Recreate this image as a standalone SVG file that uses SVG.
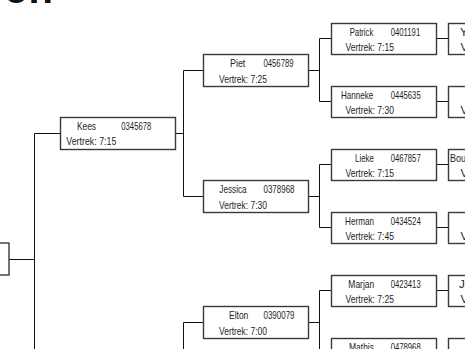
<svg xmlns="http://www.w3.org/2000/svg" width="465" height="349" viewBox="0 0 465 349">
<style>
.box{fill:#fff;stroke:#3a3a3a;stroke-width:1.4}
.t{font-family:"Liberation Sans",Arial,sans-serif;font-size:11.5px;fill:#1e1e1e}
.ttl{font-family:"Liberation Sans",Arial,sans-serif;font-size:40px;font-weight:bold;fill:#111}
#connectors path{fill:none;stroke:#111;stroke-width:1}
</style>
<rect width="465" height="349" fill="#fff"/>
<text class="ttl" x="4" y="3">on</text>
<g id="connectors">
<path d="M9 259.5H34.5M34.5 133.5V349M34.5 133.5H60"/>
<path d="M175 133.5H183.5M183.5 70.5V196.5M183.5 70.5H203M183.5 196.5H203M183.5 322.5V349M183.5 322.5H203"/>
<path d="M308 70.5H319.5M319.5 38.5V101.5M319.5 38.5H331M319.5 101.5H331"/>
<path d="M308 196.5H319.5M319.5 164.5V227.5M319.5 164.5H331M319.5 227.5H331"/>
<path d="M308 322.5H319.5M319.5 290.5V349M319.5 290.5H331"/>
<path d="M436 38.5H448M436 101.5H448M436 164.5H448M436 227.5H448M436 290.5H448"/>
</g>
<g id="node-root"><rect class="box" x="-20" y="243" width="29" height="32"/></g>
<g id="node-kees">
<rect class="box" x="60.5" y="117.5" width="115" height="32"/>
<text class="t" x="77" y="129.7" textLength="19" lengthAdjust="spacingAndGlyphs">Kees</text>
<text class="t" x="121.3" y="129.7" textLength="30" lengthAdjust="spacingAndGlyphs">0345678</text>
<text class="t" x="66.3" y="145" textLength="50" lengthAdjust="spacingAndGlyphs">Vertrek: 7:15</text>
</g>
<g id="node-piet">
<rect class="box" x="203.5" y="54.5" width="105" height="32"/>
<text class="t" x="230" y="66.7" textLength="15.3" lengthAdjust="spacingAndGlyphs">Piet</text>
<text class="t" x="263.5" y="66.7" textLength="30" lengthAdjust="spacingAndGlyphs">0456789</text>
<text class="t" x="219" y="82.7" textLength="48" lengthAdjust="spacingAndGlyphs">Vertrek: 7:25</text>
</g>
<g id="node-jessica">
<rect class="box" x="203.5" y="180.5" width="105" height="32"/>
<text class="t" x="219.3" y="192.7" textLength="27.4" lengthAdjust="spacingAndGlyphs">Jessica</text>
<text class="t" x="263.5" y="192.7" textLength="31" lengthAdjust="spacingAndGlyphs">0378968</text>
<text class="t" x="219" y="208.7" textLength="48" lengthAdjust="spacingAndGlyphs">Vertrek: 7:30</text>
</g>
<g id="node-elton">
<rect class="box" x="203.5" y="306.5" width="105" height="32"/>
<text class="t" x="229" y="318.7" textLength="19.3" lengthAdjust="spacingAndGlyphs">Elton</text>
<text class="t" x="263.5" y="318.7" textLength="31" lengthAdjust="spacingAndGlyphs">0390079</text>
<text class="t" x="219" y="334.7" textLength="48" lengthAdjust="spacingAndGlyphs">Vertrek: 7:00</text>
</g>
<g id="node-patrick">
<rect class="box" x="331.5" y="23.5" width="105" height="31"/>
<text class="t" x="349.7" y="35.7" textLength="23.6" lengthAdjust="spacingAndGlyphs">Patrick</text>
<text class="t" x="390.7" y="35.7" textLength="29.5" lengthAdjust="spacingAndGlyphs">0401191</text>
<text class="t" x="345.5" y="51.2" textLength="48.5" lengthAdjust="spacingAndGlyphs">Vertrek: 7:15</text>
</g>
<g id="node-hanneke">
<rect class="box" x="331.5" y="86.5" width="105" height="31"/>
<text class="t" x="341" y="98.7" textLength="32.3" lengthAdjust="spacingAndGlyphs">Hanneke</text>
<text class="t" x="390.7" y="98.7" textLength="30" lengthAdjust="spacingAndGlyphs">0445635</text>
<text class="t" x="345.5" y="114.2" textLength="48.5" lengthAdjust="spacingAndGlyphs">Vertrek: 7:30</text>
</g>
<g id="node-lieke">
<rect class="box" x="331.5" y="149.5" width="105" height="31"/>
<text class="t" x="355" y="161.7" textLength="19" lengthAdjust="spacingAndGlyphs">Lieke</text>
<text class="t" x="390.7" y="161.7" textLength="30" lengthAdjust="spacingAndGlyphs">0467857</text>
<text class="t" x="345.5" y="177.2" textLength="48.5" lengthAdjust="spacingAndGlyphs">Vertrek: 7:15</text>
</g>
<g id="node-herman">
<rect class="box" x="331.5" y="212.5" width="105" height="31"/>
<text class="t" x="345" y="224.7" textLength="29" lengthAdjust="spacingAndGlyphs">Herman</text>
<text class="t" x="390.7" y="224.7" textLength="30" lengthAdjust="spacingAndGlyphs">0434524</text>
<text class="t" x="345.5" y="240.2" textLength="48.5" lengthAdjust="spacingAndGlyphs">Vertrek: 7:45</text>
</g>
<g id="node-marjan">
<rect class="box" x="331.5" y="275.5" width="105" height="31"/>
<text class="t" x="348.3" y="287.7" textLength="26" lengthAdjust="spacingAndGlyphs">Marjan</text>
<text class="t" x="390.7" y="287.7" textLength="30" lengthAdjust="spacingAndGlyphs">0423413</text>
<text class="t" x="345.5" y="303.2" textLength="48.5" lengthAdjust="spacingAndGlyphs">Vertrek: 7:25</text>
</g>
<g id="node-mathis">
<rect class="box" x="331.5" y="338.5" width="105" height="31"/>
<text class="t" x="349" y="350.7" textLength="25" lengthAdjust="spacingAndGlyphs">Mathis</text>
<text class="t" x="390.7" y="350.7" textLength="30" lengthAdjust="spacingAndGlyphs">0478968</text>
</g>
<g id="node-c4-1"><rect class="box" x="448.5" y="23.5" width="40" height="31"/>
<text class="t" x="460" y="35.7">Y</text><text class="t" x="460.5" y="51.2">V</text></g>
<g id="node-c4-2"><rect class="box" x="448.5" y="86.5" width="40" height="31"/>
<text class="t" x="460.5" y="114.2">V</text></g>
<g id="node-c4-3"><rect class="box" x="448.5" y="149.5" width="40" height="31"/>
<text class="t" x="450" y="161.7" textLength="16" lengthAdjust="spacingAndGlyphs">Bou</text><text class="t" x="460.5" y="177.2">V</text></g>
<g id="node-c4-4"><rect class="box" x="448.5" y="212.5" width="40" height="31"/>
<text class="t" x="460.5" y="240.2">V</text></g>
<g id="node-c4-5"><rect class="box" x="448.5" y="275.5" width="40" height="31"/>
<text class="t" x="459" y="287.7">Jo</text><text class="t" x="460.5" y="303.2">V</text></g>
<g id="node-c4-6"><rect class="box" x="448.5" y="338.5" width="40" height="31"/></g>
</svg>
